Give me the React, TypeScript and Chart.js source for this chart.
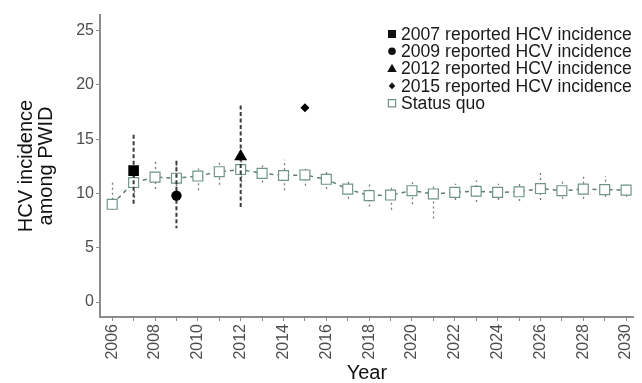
import { useEffect, useRef } from 'react';
import { Chart, registerables } from 'chart.js';

Chart.register(...registerables);

// Modelled HCV incidence among PWID under the status quo scenario
const years = [
  2006, 2007, 2008, 2009, 2010, 2011, 2012, 2013, 2014, 2015, 2016, 2017, 2018,
  2019, 2020, 2021, 2022, 2023, 2024, 2025, 2026, 2027, 2028, 2029, 2030,
];
const statusQuo = [
  9.0, 11.0, 11.5, 11.4, 11.6, 12.0, 12.2, 11.85, 11.65, 11.7, 11.3, 10.4, 9.8,
  9.85, 10.25, 9.95, 10.1, 10.2, 10.1, 10.15, 10.45, 10.25, 10.4, 10.35, 10.3,
];
const statusLow = [
  8.5, 9.6, 10.4, 10.2, 10.3, 10.8, 11.0, 11.0, 10.3, 10.7, 10.4, 9.5, 8.8,
  8.5, 9.0, 7.7, 9.4, 9.2, 9.4, 9.3, 9.4, 9.5, 9.5, 9.7, 9.7,
];
const statusHigh = [
  11.1, 12.4, 13.0, 12.7, 12.3, 13.1, 13.5, 12.8, 13.1, 12.5, 12.1, 11.3, 10.9,
  10.7, 11.1, 10.7, 10.9, 11.2, 10.9, 11.0, 11.9, 11.1, 11.6, 11.6, 11.0,
];

// Reported incidence estimates with their uncertainty ranges
const reportedYears = [2007, 2009, 2012, 2015];
const reportedValues = [12.1, 9.8, 13.4, 17.9];
const reportedLow = [8.9, 6.8, 8.6, null];
const reportedHigh = [15.4, 13.0, 18.1, null];
const reportedLabels = [
  '2007 reported HCV incidence',
  '2009 reported HCV incidence',
  '2012 reported HCV incidence',
  '2015 reported HCV incidence',
];
const statusLabel = 'Status quo';

const yTicks = [0, 5, 10, 15, 20, 25];

const FONT = "'Liberation Sans', Arial, Helvetica, sans-serif";
const SQ_COLOR = '#6f9585';
const SQ_LINE = '#5d7d70';
const markerStyles = ['rect', 'circle', 'triangle', 'rectRot'];
const markerRadius = [7.5, 5.2, 7.5, 4.5];

function drawShape(ctx: CanvasRenderingContext2D, style: string, x: number, y: number, s: number) {
  ctx.beginPath();
  if (style === 'rect') {
    ctx.rect(x - s, y - s, 2 * s, 2 * s);
  } else if (style === 'circle') {
    ctx.arc(x, y, s, 0, Math.PI * 2);
  } else if (style === 'triangle') {
    ctx.moveTo(x, y - s * 1.1);
    ctx.lineTo(x + s * 1.1, y + s * 0.8);
    ctx.lineTo(x - s * 1.1, y + s * 0.8);
    ctx.closePath();
  } else {
    ctx.moveTo(x, y - s);
    ctx.lineTo(x + s, y);
    ctx.lineTo(x, y + s);
    ctx.lineTo(x - s, y);
    ctx.closePath();
  }
}

const rangesPlugin = {
  id: 'ranges',
  beforeDatasetsDraw(chart: any) {
    const { ctx, scales } = chart;
    const xs = scales.x;
    const ys = scales.y;
    ctx.save();
    ctx.strokeStyle = '#7a7a7a';
    ctx.lineWidth = 1.3;
    ctx.setLineDash([2, 3]);
    years.forEach((yr, i) => {
      const px = Math.round(xs.getPixelForValue(yr)) + 0.5;
      ctx.beginPath();
      ctx.moveTo(px, ys.getPixelForValue(statusLow[i]));
      ctx.lineTo(px, ys.getPixelForValue(statusHigh[i]));
      ctx.stroke();
    });
    ctx.restore();
  },
  afterDatasetDraw(chart: any, args: any) {
    if (args.index !== 0) return;
    const { ctx, scales } = chart;
    const xs = scales.x;
    const ys = scales.y;
    ctx.save();
    ctx.strokeStyle = '#3a3a3a';
    ctx.lineWidth = 2;
    ctx.setLineDash([4, 2.5]);
    reportedYears.forEach((yr, i) => {
      const lo = reportedLow[i];
      const hi = reportedHigh[i];
      if (lo == null || hi == null) return;
      const px = xs.getPixelForValue(yr);
      ctx.beginPath();
      ctx.moveTo(px, ys.getPixelForValue(hi));
      ctx.lineTo(px, ys.getPixelForValue(lo));
      ctx.stroke();
    });
    ctx.restore();
  },
};

const legendPlugin = {
  id: 'insideLegend',
  afterDraw(chart: any) {
    const { ctx } = chart;
    const left = 392;
    const top = 34;
    const step = 17.3;
    ctx.save();
    ctx.font = `17.6px ${FONT}`;
    ctx.textBaseline = 'middle';
    ctx.textAlign = 'left';
    const sizes = [4.0, 3.8, 4.3, 3.3];
    reportedLabels.forEach((label, i) => {
      const y = top + i * step;
      ctx.fillStyle = '#111';
      drawShape(ctx, markerStyles[i], left, y, sizes[i]);
      ctx.fill();
      ctx.fillStyle = '#1a1a1a';
      ctx.fillText(label, left + 9, y + 1);
    });
    const y = top + 4 * step;
    ctx.strokeStyle = SQ_COLOR;
    ctx.lineWidth = 1.2;
    ctx.fillStyle = '#fff';
    drawShape(ctx, 'rect', left, y, 3.6);
    ctx.fill();
    ctx.stroke();
    ctx.fillStyle = '#1a1a1a';
    ctx.fillText(statusLabel, left + 9, y + 1);
    ctx.restore();
  },
};

export default function App() {
  const canvasRef = useRef<HTMLCanvasElement | null>(null);

  useEffect(() => {
    const canvas = canvasRef.current;
    if (!canvas) return;

    const reportedSets = reportedYears.map((yr, i) => ({
      type: 'scatter' as const,
      label: reportedLabels[i],
      data: [{ x: yr, y: reportedValues[i] }],
      pointStyle: markerStyles[i],
      pointRadius: markerRadius[i],
      pointBackgroundColor: '#000',
      pointBorderColor: '#000',
      pointBorderWidth: 0,
      order: 0,
    }));

    const chart = new Chart(canvas, {
      type: 'line',
      data: {
        datasets: [
          {
            label: statusLabel,
            data: years.map((yr, i) => ({ x: yr, y: statusQuo[i] })),
            borderColor: SQ_LINE,
            borderWidth: 1.5,
            borderDash: [4, 4],
            pointStyle: 'rect',
            pointRadius: 7,
            pointBackgroundColor: '#ffffff',
            pointBorderColor: SQ_COLOR,
            pointBorderWidth: 1.2,
            tension: 0,
            order: 10,
          },
          ...reportedSets,
        ] as any,
      },
      options: {
        responsive: false,
        animation: false,
        devicePixelRatio: 1,
        layout: { padding: { top: 15, right: 1, left: 0, bottom: 0 } },
        plugins: {
          legend: { display: false },
          tooltip: { enabled: false },
        },
        scales: {
          x: {
            type: 'linear',
            min: 2005.43,
            max: 2030.36,
            afterBuildTicks(scale: any) {
              scale.ticks = years.map((v) => ({ value: v }));
            },
            afterFit(scale: any) {
              scale.height = 66;
              scale.paddingLeft = 0;
              scale.paddingRight = 0;
            },
            ticks: {
              autoSkip: false,
              minRotation: 90,
              maxRotation: 90,
              padding: 3,
              color: '#4d4d4d',
              font: { family: FONT, size: 16 },
              callback: (v: any) => (Number(v) % 2 === 0 ? String(v) : ''),
            },
            grid: {
              drawOnChartArea: false,
              drawTicks: true,
              tickLength: 4,
              color: '#8c8c8c',
            },
            border: { display: true, color: '#8c8c8c', width: 2 },
            title: {
              display: true,
              text: 'Year',
              color: '#111',
              font: { family: FONT, size: 20, lineHeight: 1 },
              padding: { top: 0, bottom: 0 },
            },
          },
          y: {
            type: 'linear',
            min: -1.38,
            max: 26.43,
            afterBuildTicks(scale: any) {
              scale.ticks = yTicks.map((v) => ({ value: v }));
            },
            afterFit(scale: any) {
              scale.width = 100;
              scale.paddingTop = 0;
              scale.paddingBottom = 0;
            },
            ticks: {
              padding: 2,
              color: '#4d4d4d',
              font: { family: FONT, size: 16 },
            },
            grid: {
              drawOnChartArea: false,
              drawTicks: true,
              tickLength: 4,
              color: '#8c8c8c',
            },
            border: { display: true, color: '#8c8c8c', width: 2 },
            title: {
              display: true,
              text: ['HCV incidence', 'among PWID'],
              color: '#111',
              font: { family: FONT, size: 20, lineHeight: 1 },
              padding: { top: 16, bottom: 0 },
            },
          },
        },
      },
      plugins: [rangesPlugin, legendPlugin],
    });

    return () => chart.destroy();
  }, []);

  return (
    <div style={{ position: 'fixed', left: 0, top: 0, width: 642, height: 383, background: '#fff' }}>
      <canvas ref={canvasRef} width={642} height={383} />
    </div>
  );
}
